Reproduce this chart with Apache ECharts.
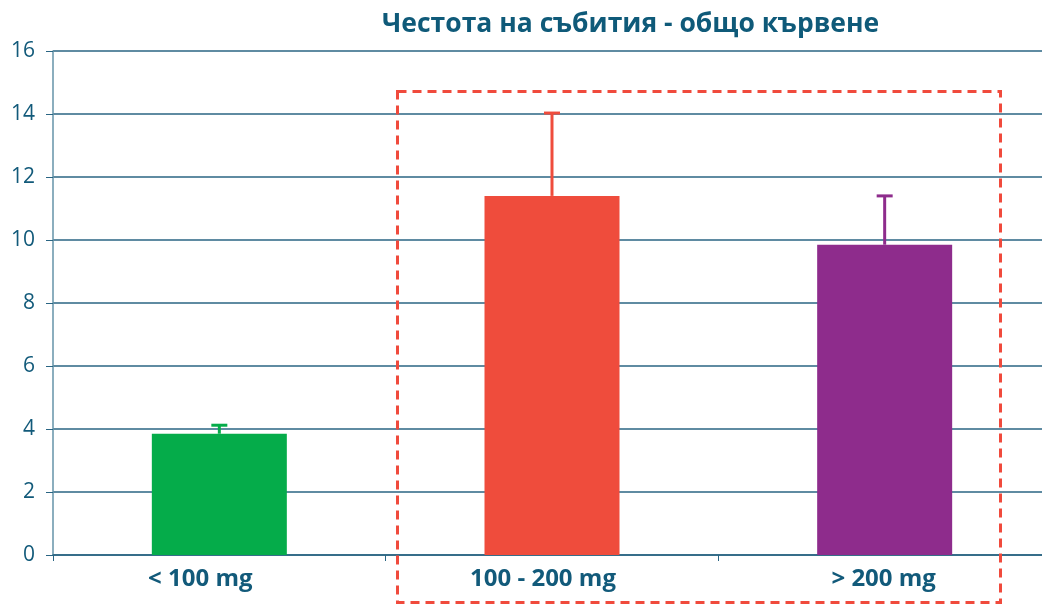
<!DOCTYPE html>
<html>
<head>
<meta charset="utf-8">
<script src="https://cdn.jsdelivr.net/npm/echarts@6/dist/echarts.min.js"></script>
<style>
  html, body { margin: 0; padding: 0; background: #fff; }
  #chart { width: 1042px; height: 605px; }
</style>
</head>
<body>
<div id="chart"></div>
<script>
const categories = ['< 100 mg', '100 - 200 mg', '> 200 mg'];
const eventRates = [3.85, 11.4, 9.85];
const errorUpper = [4.12, 14.03, 11.4];
const barColors = ['#05ac4a', '#ef4c3c', '#8e2c8c'];
const yTicks = [0, 2, 4, 6, 8, 10, 12, 14, 16];

const textColor = '#125a7a';
const font = '"Open Sans", "Noto Sans", sans-serif';

let myChart = echarts.init(document.getElementById('chart'));

const errorData = categories.map((c, i) => [i, eventRates[i], errorUpper[i]]);

// labels in the original sit slightly left of the category centre
const labelRich = {
  l0: { padding: [0, 38, 0, 0] },
  l1: { padding: [0, 18, 0, 0] },
  l2: { padding: [0, 2, 0, 0] }
};

myChart.setOption({
  animation: false,
  title: {
    text: 'Честота на събития - общо кървене',
    left: 377,
    top: 6,
    textStyle: {
      fontFamily: font,
      fontSize: 26.5,
      fontWeight: 'bold',
      color: '#0f5a79'
    }
  },
  grid: {
    left: 53,
    top: 51,
    width: 998,
    height: 504,
    outerBoundsMode: 'none'
  },
  xAxis: {
    type: 'category',
    data: categories,
    axisLine: { show: true, lineStyle: { color: '#2a6583', width: 1.5 } },
    axisTick: { show: true, length: 6, lineStyle: { color: '#2a6583' } },
    axisLabel: {
      margin: 12,
      fontFamily: font,
      fontSize: 24,
      fontWeight: 'bold',
      color: textColor,
      formatter: function (value, index) {
        return '{l' + index + '|' + value + '}';
      },
      rich: labelRich
    }
  },
  yAxis: {
    type: 'value',
    min: yTicks[0],
    max: yTicks[yTicks.length - 1],
    interval: 2,
    axisLine: { show: true, lineStyle: { color: '#6493a8', width: 1.5 } },
    axisTick: { show: true, length: 7, lineStyle: { color: '#2a6583' } },
    splitLine: { show: true, lineStyle: { color: '#2a6583', width: 1.5 } },
    axisLabel: {
      margin: 18,
      fontFamily: font,
      fontSize: 21,
      color: textColor
    }
  },
  series: [
    {
      type: 'bar',
      barWidth: 135,
      data: eventRates.map((v, i) => ({ value: v, itemStyle: { color: barColors[i] } })),
      z: 3
    },
    {
      type: 'custom',
      z: 4,
      data: errorData,
      renderItem: function (params, api) {
        const i = api.value(0);
        const base = api.coord([i, api.value(1)]);
        const top = api.coord([i, api.value(2)]);
        const color = barColors[i];
        const half = 8;
        return {
          type: 'group',
          children: [
            {
              type: 'line',
              shape: { x1: base[0], y1: base[1], x2: top[0], y2: top[1] },
              style: { stroke: color, lineWidth: 3 }
            },
            {
              type: 'line',
              shape: { x1: top[0] - half, y1: top[1], x2: top[0] + half, y2: top[1] },
              style: { stroke: color, lineWidth: 3 }
            }
          ]
        };
      }
    }
  ],
  graphic: [
    {
      type: 'rect',
      z: 10,
      shape: { x: 397.5, y: 91.5, width: 603, height: 511 },
      style: {
        fill: 'none',
        stroke: '#f04a3c',
        lineWidth: 3,
        lineDash: [9, 6]
      }
    }
  ]
});

window.addEventListener('resize', myChart.resize);
</script>
</body>
</html>
